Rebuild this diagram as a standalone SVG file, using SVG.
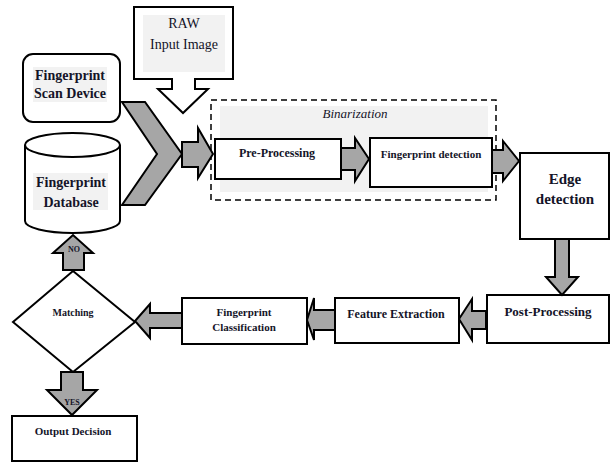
<svg xmlns="http://www.w3.org/2000/svg" width="614" height="463" viewBox="0 0 614 463">
<style>
.box{fill:#fff;stroke:#000;stroke-width:2}
.bg{fill:#f2f2f2;stroke:none}
.arr{fill:#a6a6a6;stroke:#000;stroke-width:2;stroke-linejoin:miter}
text{font-family:'Liberation Serif','DejaVu Serif',serif;fill:#141428;text-anchor:middle}
.t{font-weight:bold}
</style>
<rect width="614" height="463" fill="#fff"/>
<g id="binarization">
<rect x="220" y="106" width="268" height="86" class="bg"/>
<rect x="211" y="100" width="285" height="100" fill="none" stroke="#000" stroke-width="1.5" stroke-dasharray="6,4"/>
<text x="355" y="118" font-style="italic" font-size="13">Binarization</text>
</g>
<g id="raw-input">
<path d="M134,7 H233 V79 H195 V89 H208 L183,113 L158,89 H172 V79 H134 Z" class="box"/>
<rect x="143" y="15" width="82" height="57" class="bg"/>
<text x="184" y="28" font-size="14">RAW</text>
<text x="184" y="49" font-size="14">Input Image</text>
</g>
<g id="scan-device">
<rect x="23" y="54" width="97" height="68" rx="10" ry="10" class="box"/>
<rect x="33" y="67" width="74" height="35" class="bg"/>
<text x="70" y="80" class="t" font-size="14">Fingerprint</text>
<text x="70" y="98" class="t" font-size="14">Scan Device</text>
</g>
<g id="database">
<path d="M25,145 A47.5,12 0 0 1 120,145 V221 A47.5,12 0 0 1 25,221 Z" class="box"/>
<path d="M25,145 A47.5,12 0 0 0 120,145" fill="none" stroke="#000" stroke-width="2"/>
<rect x="33" y="173" width="75" height="37" class="bg"/>
<text x="71" y="187" class="t" font-size="14">Fingerprint</text>
<text x="71" y="207" class="t" font-size="14">Database</text>
</g>
<g id="pre-processing">
<rect x="215" y="139" width="126" height="40" class="box"/>
<text x="277" y="157" class="t" font-size="12">Pre-Processing</text>
</g>
<g id="fingerprint-detection">
<rect x="370" y="138" width="122" height="49" class="box"/>
<text x="431" y="158" class="t" font-size="11">Fingerprint detection</text>
</g>
<g id="edge-detection">
<rect x="520" y="153" width="89" height="86" class="box"/>
<text x="565" y="184" class="t" font-size="15">Edge</text>
<text x="565" y="204" class="t" font-size="15">detection</text>
</g>
<g id="post-processing">
<rect x="487" y="295" width="122" height="48" class="box"/>
<text x="548" y="316" class="t" font-size="13">Post-Processing</text>
</g>
<g id="feature-extraction">
<rect x="335" y="298" width="124" height="45" class="box"/>
<text x="396" y="318" class="t" font-size="12">Feature Extraction</text>
</g>
<g id="classification">
<rect x="182" y="298" width="125" height="46" class="box"/>
<text x="244" y="316" class="t" font-size="11">Fingerprint</text>
<text x="244" y="331" class="t" font-size="11">Classification</text>
</g>
<g id="matching">
<polygon points="73,271 135,322 73,372 13,322" class="box"/>
<text x="73" y="316" class="t" font-size="10">Matching</text>
</g>
<g id="output-decision">
<rect x="12" y="416" width="125" height="45" class="box"/>
<text x="73" y="435" class="t" font-size="11">Output Decision</text>
</g>
<g id="connectors">
<polygon points="122,102 145,102 182,154 145,205 122,205 157,154" class="arr"/>
<polygon points="182,142 198,142 198,128 213,154 198,178 198,167 182,167" class="arr"/>
<polygon points="341,148 355,148 355,138 369,159 355,181 355,170 341,170" class="arr"/>
<polygon points="492,150 503,150 503,141 519,161 503,181 503,173 492,173" class="arr"/>
<polygon points="555,239 569,239 569,277 578,277 562,295 546,277 555,277" class="arr"/>
<polygon points="486,311 472,311 472,299 459,319 472,340 472,329 486,329" class="arr"/>
<polygon points="335,310 314,310 314,298 307,320 314,340 314,330 335,330" class="arr"/>
<polygon points="182,313 150,313 150,304 135,321 150,338 150,328 182,328" class="arr"/>
<polygon points="63,270 63,253 53,253 73,235 93,253 84,253 84,270" class="arr"/>
<polygon points="61,372 61,390 47,390 72,415 97,390 83,390 83,372" class="arr"/>
<text x="74" y="252" class="t" font-size="8">NO</text>
<text x="72" y="405" class="t" font-size="8">YES</text>
</g>
</svg>
